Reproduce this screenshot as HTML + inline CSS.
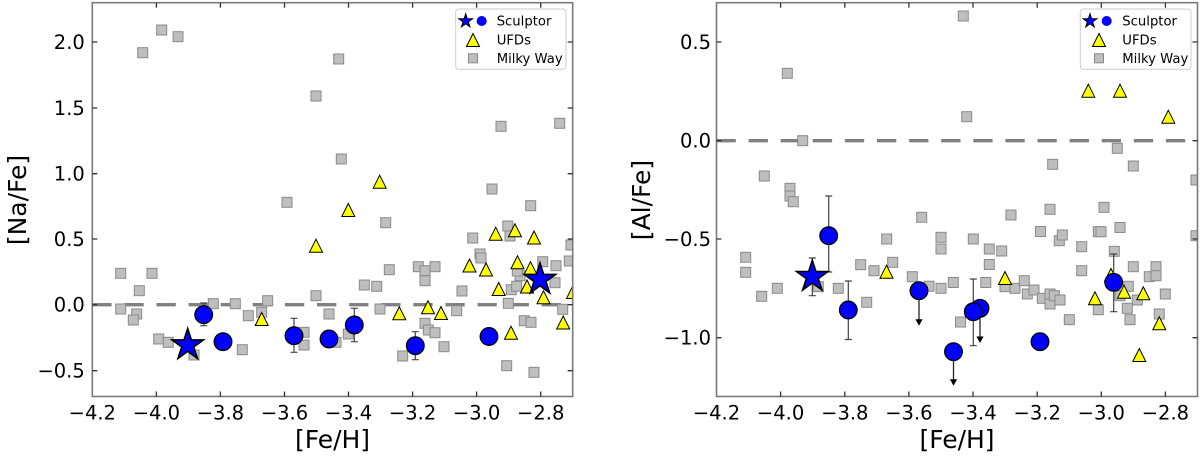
<!DOCTYPE html>
<html><head><meta charset="utf-8"><style>
html,body{margin:0;padding:0;background:#fff;}
svg{display:block;}
text{font-family:"DejaVu Sans","Liberation Sans",sans-serif;fill:#000;}
</style></head><body>
<svg width="1200" height="459" viewBox="0 0 1200 459" xmlns="http://www.w3.org/2000/svg">
<defs>
<rect id="s" x="-5" y="-5" width="10" height="10"/>
<path id="t" d="M0,-6.5L6.5,6.5L-6.5,6.5Z"/>
<path id="st" d="M0,-16.5 L3.70,-5.10 L15.69,-5.10 L5.99,1.95 L9.70,13.35 L0,6.3 L-9.70,13.35 L-5.99,1.95 L-15.69,-5.10 L-3.70,-5.10 Z"/>
<circle id="c" r="8.8"/>
<path id="ah" d="M-3.6,-6.5L3.6,-6.5L0,0Z"/>
<clipPath id="cl"><rect x="92.3" y="2.7" width="480.4" height="393.8"/></clipPath>
<clipPath id="cr"><rect x="716.5" y="2.7" width="481" height="393.8"/></clipPath>
</defs>

<!-- ================= LEFT PANEL ================= -->
<g clip-path="url(#cl)">
<line x1="92.3" y1="304.7" x2="572.7" y2="304.7" stroke="#808080" stroke-width="3.3" stroke-dasharray="19.3 12.8"/>
<g fill="#bebebe" stroke="#8a8a8a" stroke-width="1">
<use href="#s" x="142.7" y="52.7"/><use href="#s" x="161.7" y="30"/><use href="#s" x="178" y="36.7"/><use href="#s" x="287" y="202.3"/>
<use href="#s" x="120.7" y="273.3"/><use href="#s" x="152" y="273.3"/><use href="#s" x="139.3" y="290.7"/><use href="#s" x="120.7" y="309"/>
<use href="#s" x="136.7" y="314"/><use href="#s" x="133.3" y="320"/><use href="#s" x="158.7" y="339"/><use href="#s" x="168.3" y="342.3"/>
<use href="#s" x="194" y="355"/><use href="#s" x="213.3" y="303.7"/><use href="#s" x="235.3" y="303.7"/><use href="#s" x="248.3" y="315.7"/>
<use href="#s" x="242.3" y="349.7"/><use href="#s" x="267.7" y="300.7"/><use href="#s" x="261.7" y="312.3"/>
<use href="#s" x="338.7" y="59"/><use href="#s" x="316" y="96"/><use href="#s" x="341.3" y="159"/><use href="#s" x="385.7" y="222.7"/>
<use href="#s" x="501" y="126.3"/><use href="#s" x="559.7" y="123.3"/><use href="#s" x="492" y="189"/><use href="#s" x="530.7" y="205.7"/>
<use href="#s" x="507.8" y="226"/><use href="#s" x="472.7" y="238"/><use href="#s" x="480" y="254"/><use href="#s" x="481" y="258"/>
<use href="#s" x="418.3" y="266.7"/><use href="#s" x="425" y="270.7"/><use href="#s" x="435" y="266.7"/><use href="#s" x="425" y="280.7"/>
<use href="#s" x="389.3" y="269.7"/><use href="#s" x="364.3" y="285"/><use href="#s" x="376.7" y="286.3"/><use href="#s" x="316" y="295.7"/>
<use href="#s" x="329" y="314"/><use href="#s" x="380" y="309"/><use href="#s" x="462" y="291"/><use href="#s" x="456.7" y="310.7"/>
<use href="#s" x="425" y="323.3"/><use href="#s" x="428.3" y="330"/><use href="#s" x="435" y="332.7"/><use href="#s" x="444" y="346.7"/>
<use href="#s" x="402.7" y="356"/><use href="#s" x="348.3" y="334"/><use href="#s" x="336" y="342.3"/><use href="#s" x="304" y="332.3"/>
<use href="#s" x="304" y="345"/><use href="#s" x="508.3" y="303.3"/><use href="#s" x="511.3" y="289.7"/><use href="#s" x="516.7" y="286.3"/>
<use href="#s" x="520" y="275.7"/><use href="#s" x="517.3" y="271"/><use href="#s" x="524.3" y="320.7"/><use href="#s" x="531" y="322.3"/>
<use href="#s" x="506.7" y="365.7"/><use href="#s" x="534" y="372.3"/><use href="#s" x="542.7" y="261.7"/><use href="#s" x="556" y="265.7"/>
<use href="#s" x="555" y="282.7"/><use href="#s" x="562.7" y="309.3"/><use href="#s" x="569.3" y="261"/><use href="#s" x="571" y="245"/>
<use href="#s" x="510" y="236"/>
</g>
<g fill="#ffff00" stroke="#000" stroke-width="1">
<use href="#t" x="261.7" y="319"/><use href="#t" x="348.3" y="210"/><use href="#t" x="379.7" y="181.7"/><use href="#t" x="316" y="245.7"/>
<use href="#t" x="399.3" y="313.3"/><use href="#t" x="428" y="307.3"/><use href="#t" x="441" y="313"/><use href="#t" x="469.5" y="265.5"/>
<use href="#t" x="486" y="269.5"/><use href="#t" x="495.7" y="233.7"/><use href="#t" x="515" y="230.3"/><use href="#t" x="534" y="237.5"/>
<use href="#t" x="517.5" y="262.3"/><use href="#t" x="530.5" y="268.2"/><use href="#t" x="498.7" y="289"/><use href="#t" x="527" y="286.5"/>
<use href="#t" x="543.5" y="297.3"/><use href="#t" x="511" y="332.7"/><use href="#t" x="563.2" y="322.5"/><use href="#t" x="573" y="292"/>
</g>
<g stroke="#444" stroke-width="1.2" fill="none">
<path d="M203.7,303V325.7M200.2,303H207.2M200.2,325.7H207.2"/>
<path d="M223,336.5V347M219.5,336.5H226.5M219.5,347H226.5"/>
<path d="M294,318.3V352.3M290.5,318.3H297.5M290.5,352.3H297.5"/>
<path d="M329,332V346M325.5,332H332.5M325.5,346H332.5"/>
<path d="M354.3,308.3V341.7M350.8,308.3H357.8M350.8,341.7H357.8"/>
<path d="M415.3,331.7V359.7M411.8,331.7H418.8M411.8,359.7H418.8"/>
<path d="M489,331.5V341.5M485.5,331.5H492.5M485.5,341.5H492.5"/>
</g>
<g fill="#0000ff" stroke="#000" stroke-width="1.3">
<use href="#c" x="203.7" y="314.7"/><use href="#c" x="223" y="341.7"/><use href="#c" x="294" y="335.7"/><use href="#c" x="329" y="339"/>
<use href="#c" x="354.3" y="325"/><use href="#c" x="415.3" y="345.7"/><use href="#c" x="489" y="336.5"/>
</g>
<g fill="#0000ff" stroke="#000" stroke-width="1.6">
<use href="#st" x="187.7" y="345"/><use href="#st" x="540" y="279.5"/>
</g>
</g>
<!-- legend left -->
<rect x="455.7" y="9" width="110.3" height="60.3" rx="3" fill="#fff" fill-opacity="0.85" stroke="#cccccc" stroke-width="1"/>
<g transform="translate(465.7,21) scale(0.45)"><use href="#st" fill="#0000ff" stroke="#000" stroke-width="2"/></g>
<circle cx="481.7" cy="21" r="5" fill="#0000ff" stroke="none"/>
<use href="#t" x="473" y="40" fill="#ffff00" stroke="#000" stroke-width="1"/>
<rect x="468.5" y="53.8" width="9" height="9" fill="#bebebe" stroke="#8a8a8a" stroke-width="1"/>
<text x="496.7" y="25.5" font-size="13.2">Sculptor</text>
<text x="496.7" y="44.4" font-size="13.2">UFDs</text>
<text x="496.7" y="63" font-size="13.2">Milky Way</text>
<!-- spines / ticks left -->
<rect x="92.3" y="2.7" width="480.4" height="393.8" fill="none" stroke="#7a7a7a" stroke-width="1.6"/>
<g stroke="#333" stroke-width="1.3">
<path d="M156.4,396.5v-5M220.4,396.5v-5M284.5,396.5v-5M348.5,396.5v-5M412.6,396.5v-5M476.6,396.5v-5M540.7,396.5v-5"/>
<path d="M156.4,2.7v5M220.4,2.7v5M284.5,2.7v5M348.5,2.7v5M412.6,2.7v5M476.6,2.7v5M540.7,2.7v5"/>
<path d="M92.3,42h5M92.3,108h5M92.3,173.7h5M92.3,239h5M92.3,304.7h5M92.3,370.7h5"/>
<path d="M572.7,42h-5M572.7,108h-5M572.7,173.7h-5M572.7,239h-5M572.7,304.7h-5M572.7,370.7h-5"/>
</g>
<g font-size="19.5" text-anchor="end">
<text x="84.8" y="49">2.0</text><text x="84.8" y="115">1.5</text><text x="84.8" y="180.7">1.0</text>
<text x="84.8" y="246">0.5</text><text x="84.8" y="311.7">0.0</text><text x="84.8" y="377.7">−0.5</text>
</g>
<g font-size="19.5" text-anchor="middle">
<text x="92.3" y="419.5">−4.2</text><text x="156.4" y="419.5">−4.0</text><text x="220.4" y="419.5">−3.8</text>
<text x="284.5" y="419.5">−3.6</text><text x="348.5" y="419.5">−3.4</text><text x="412.6" y="419.5">−3.2</text>
<text x="476.6" y="419.5">−3.0</text><text x="540.7" y="419.5">−2.8</text>
</g>
<text x="332.5" y="448" font-size="25" text-anchor="middle">[Fe/H]</text>
<text transform="translate(26,200) rotate(-90)" font-size="25" text-anchor="middle">[Na/Fe]</text>

<!-- ================= RIGHT PANEL ================= -->
<g clip-path="url(#cr)">
<line x1="716.5" y1="140.7" x2="1197.5" y2="140.7" stroke="#808080" stroke-width="3.3" stroke-dasharray="19.3 12.8"/>
<g fill="#bebebe" stroke="#8a8a8a" stroke-width="1">
<use href="#s" x="787.3" y="73.3"/><use href="#s" x="802.7" y="140.7"/><use href="#s" x="764.3" y="176"/><use href="#s" x="790" y="188.3"/>
<use href="#s" x="790" y="196"/><use href="#s" x="793.3" y="201.7"/>
<use href="#s" x="745.7" y="257.3"/><use href="#s" x="745.7" y="272.3"/><use href="#s" x="761.7" y="296.3"/><use href="#s" x="777.3" y="288.3"/>
<use href="#s" x="818.3" y="286.7"/><use href="#s" x="838.3" y="288.3"/><use href="#s" x="860.7" y="264.7"/><use href="#s" x="874" y="270.7"/>
<use href="#s" x="866.7" y="302.3"/><use href="#s" x="886.7" y="239"/><use href="#s" x="892.7" y="262.3"/>
<use href="#s" x="921.7" y="217.3"/><use href="#s" x="941" y="237.3"/><use href="#s" x="941" y="249"/><use href="#s" x="973.3" y="239"/>
<use href="#s" x="989.3" y="249"/><use href="#s" x="1001.7" y="251"/><use href="#s" x="989.3" y="264.5"/><use href="#s" x="912.3" y="276.7"/>
<use href="#s" x="929" y="286.2"/><use href="#s" x="941" y="288.3"/><use href="#s" x="953.3" y="282.5"/><use href="#s" x="985.8" y="282.5"/>
<use href="#s" x="1005" y="286.7"/><use href="#s" x="1015" y="288.3"/><use href="#s" x="960.5" y="322"/>
<use href="#s" x="1024.3" y="280.7"/><use href="#s" x="1027.3" y="294"/><use href="#s" x="1034" y="290"/><use href="#s" x="1042.3" y="298.3"/>
<use href="#s" x="1050" y="304"/><use href="#s" x="1050" y="294"/><use href="#s" x="1054.3" y="295.7"/><use href="#s" x="1060" y="300"/>
<use href="#s" x="1069.3" y="319.7"/><use href="#s" x="1040.5" y="231.5"/><use href="#s" x="1059.3" y="240.7"/><use href="#s" x="1062.3" y="235"/>
<use href="#s" x="1081.7" y="246.7"/><use href="#s" x="1081.7" y="270.7"/><use href="#s" x="1098.3" y="231.7"/><use href="#s" x="1101" y="231.7"/>
<use href="#s" x="1120" y="227.5"/><use href="#s" x="1114.3" y="251.3"/><use href="#s" x="1133.3" y="266.7"/><use href="#s" x="1156" y="266.7"/>
<use href="#s" x="1149.3" y="276.7"/><use href="#s" x="1156" y="275.7"/><use href="#s" x="1128.3" y="286.3"/><use href="#s" x="1120" y="295.7"/>
<use href="#s" x="1137.3" y="300"/><use href="#s" x="1127.3" y="308.3"/><use href="#s" x="1098.3" y="309.7"/><use href="#s" x="1130" y="319.7"/>
<use href="#s" x="1159.3" y="314"/><use href="#s" x="1165.3" y="294"/><use href="#s" x="1196" y="235.7"/>
<use href="#s" x="963.3" y="16"/><use href="#s" x="966.7" y="116.7"/><use href="#s" x="1117.3" y="148.3"/><use href="#s" x="1052.7" y="164.3"/>
<use href="#s" x="1133.3" y="166"/><use href="#s" x="1196" y="180"/><use href="#s" x="1011" y="215"/><use href="#s" x="1050" y="209.3"/>
<use href="#s" x="1104" y="207.3"/>
</g>
<g fill="#ffff00" stroke="#000" stroke-width="1">
<use href="#t" x="886.5" y="271.7"/><use href="#t" x="1005" y="278"/><use href="#t" x="1095" y="298.3"/><use href="#t" x="1124" y="291.7"/>
<use href="#t" x="1143.3" y="293.3"/><use href="#t" x="1159.3" y="323.3"/><use href="#t" x="1139.3" y="355"/><use href="#t" x="1111" y="275"/>
<use href="#t" x="1088.3" y="90.7"/><use href="#t" x="1120" y="90.7"/><use href="#t" x="1168.3" y="116.7"/>
</g>
<g stroke="#444" stroke-width="1.2" fill="none">
<path d="M828.7,196V272M825.2,196H832.2M825.2,272H832.2"/>
<path d="M848.3,281V339.5M844.8,281H851.8M844.8,339.5H851.8"/>
<path d="M973.3,279V345.7M969.8,279H976.8M969.8,345.7H976.8"/>
<path d="M1113.7,254V311.7M1110.2,254H1117.2M1110.2,311.7H1117.2"/>
<path d="M812.3,258V295.7M808.8,258H815.8M808.8,295.7H815.8"/>
</g>
<g stroke="#222" stroke-width="1.3">
<line x1="919" y1="290.7" x2="919" y2="320"/>
<line x1="953.5" y1="351.7" x2="953.5" y2="380"/>
<line x1="980" y1="308.3" x2="980" y2="337"/>
</g>
<g fill="#000">
<use href="#ah" x="919" y="325.7"/><use href="#ah" x="953.5" y="385.7"/><use href="#ah" x="980" y="343"/>
</g>
<g fill="#0000ff" stroke="#000" stroke-width="1.3">
<use href="#c" x="828.7" y="235.7"/><use href="#c" x="848.3" y="310"/><use href="#c" x="919" y="290.7"/><use href="#c" x="953.5" y="351.7"/>
<use href="#c" x="980" y="308.3"/><use href="#c" x="973.3" y="311.7"/><use href="#c" x="1040" y="341.7"/><use href="#c" x="1113.7" y="282.3"/>
</g>
<g fill="#0000ff" stroke="#000" stroke-width="1.6">
<use href="#st" x="812.3" y="276.7"/>
</g>
</g>
<!-- legend right -->
<rect x="1080.3" y="9" width="110.7" height="60.3" rx="3" fill="#fff" fill-opacity="0.85" stroke="#cccccc" stroke-width="1"/>
<g transform="translate(1090,21) scale(0.45)"><use href="#st" fill="#0000ff" stroke="#000" stroke-width="2"/></g>
<circle cx="1106.7" cy="21" r="5" fill="#0000ff" stroke="none"/>
<use href="#t" x="1099" y="40" fill="#ffff00" stroke="#000" stroke-width="1"/>
<rect x="1094.5" y="53.8" width="9" height="9" fill="#bebebe" stroke="#8a8a8a" stroke-width="1"/>
<text x="1122.3" y="25.5" font-size="13.2">Sculptor</text>
<text x="1122.3" y="44.4" font-size="13.2">UFDs</text>
<text x="1122.3" y="63" font-size="13.2">Milky Way</text>
<!-- spines / ticks right -->
<rect x="716.5" y="2.7" width="481" height="393.8" fill="none" stroke="#7a7a7a" stroke-width="1.6"/>
<g stroke="#333" stroke-width="1.3">
<path d="M780.6,396.5v-5M844.8,396.5v-5M908.9,396.5v-5M973,396.5v-5M1037.2,396.5v-5M1101.3,396.5v-5M1165.4,396.5v-5"/>
<path d="M780.6,2.7v5M844.8,2.7v5M908.9,2.7v5M973,2.7v5M1037.2,2.7v5M1101.3,2.7v5M1165.4,2.7v5"/>
<path d="M716.5,42h5M716.5,140.7h5M716.5,239h5M716.5,337.7h5"/>
<path d="M1197.5,42h-5M1197.5,140.7h-5M1197.5,239h-5M1197.5,337.7h-5"/>
</g>
<g font-size="19.5" text-anchor="end">
<text x="711" y="49">0.5</text><text x="711" y="147.7">0.0</text><text x="711" y="246">−0.5</text><text x="711" y="344.7">−1.0</text>
</g>
<g font-size="19.5" text-anchor="middle">
<text x="716.5" y="419.5">−4.2</text><text x="780.6" y="419.5">−4.0</text><text x="844.8" y="419.5">−3.8</text>
<text x="908.9" y="419.5">−3.6</text><text x="973" y="419.5">−3.4</text><text x="1037.2" y="419.5">−3.2</text>
<text x="1101.3" y="419.5">−3.0</text><text x="1165.4" y="419.5">−2.8</text>
</g>
<text x="957" y="448" font-size="25" text-anchor="middle">[Fe/H]</text>
<text transform="translate(650,200) rotate(-90)" font-size="25" text-anchor="middle">[Al/Fe]</text>
</svg>
</body></html>
